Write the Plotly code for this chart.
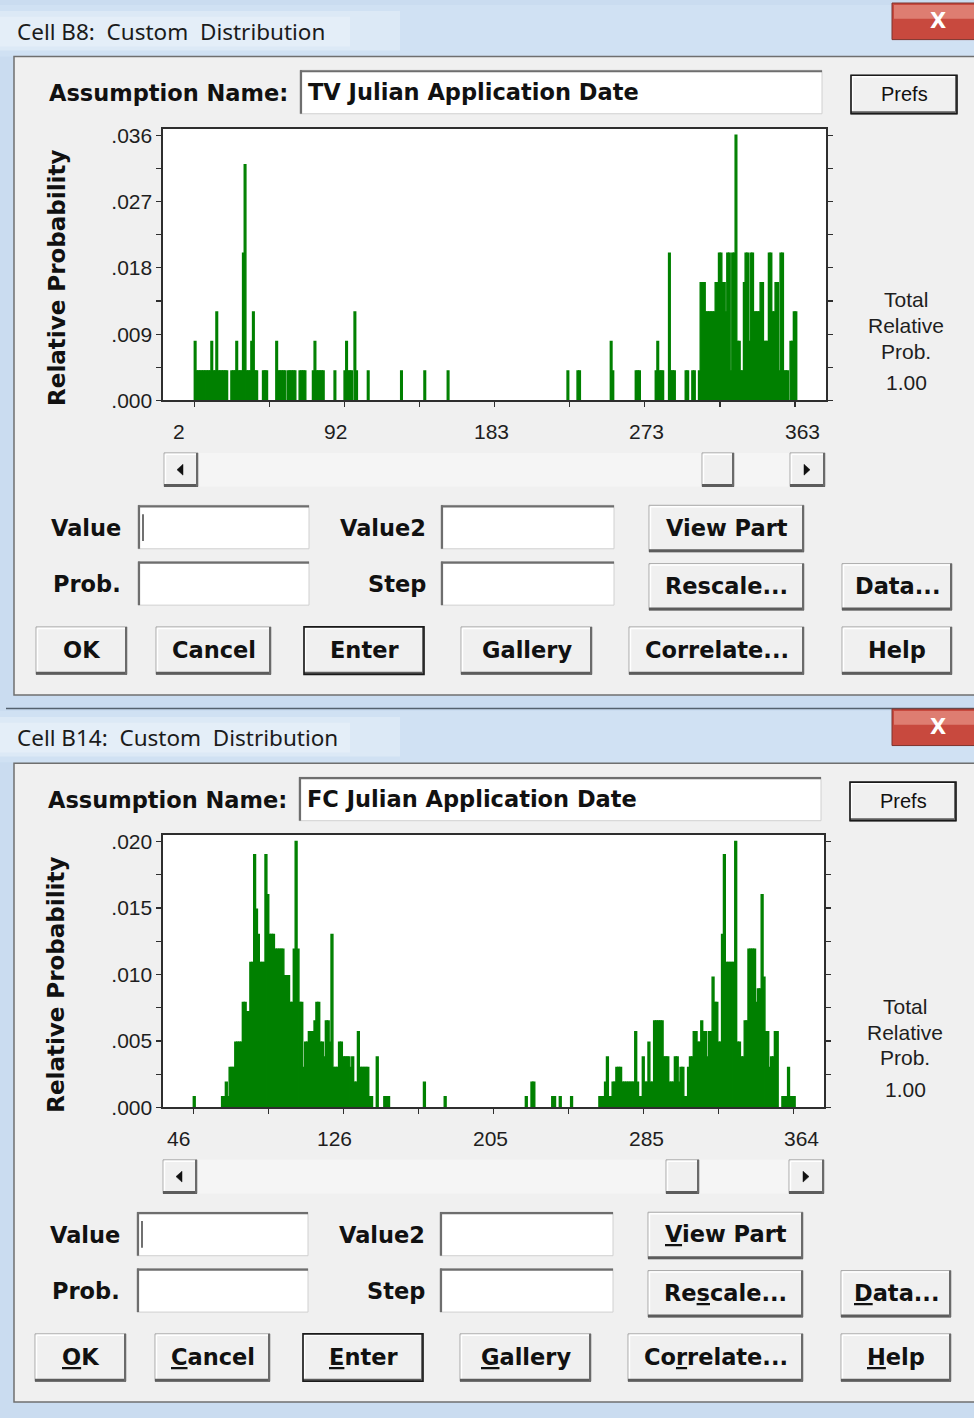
import plotly.graph_objects as go

W, H = 974, 1418

# ---------------- data ----------------
tv_days = [
    2, 3, 4, 5, 6, 7, 8, 9, 10, 11, 12, 13, 14, 15, 16, 17, 18, 19, 20, 21,
    24, 25, 26, 27, 28, 29, 30, 31, 32, 33, 34, 35, 36, 37, 38, 39,
    43, 44, 45, 51, 52, 53, 54, 55, 56, 58, 59, 60, 61, 62, 65, 66, 67, 68,
    73, 74, 75, 76, 77, 78, 79, 86, 92, 93, 94, 95, 96, 98, 99, 106,
    126, 140, 154, 226, 232, 233,
    252, 253, 267, 268, 269, 279, 280, 281, 282, 283, 287, 288, 289, 290, 297, 298, 301, 302, 305,
    306, 307, 308, 309, 310, 311, 312, 313, 314, 315, 316, 317, 318, 319, 320, 321, 322, 323, 324, 325,
    326, 327, 328, 329, 330, 331, 332, 333, 334, 335, 336, 337, 338, 339, 340, 341, 342, 343, 344, 345,
    346, 347, 348, 349, 350, 351, 352, 353, 354, 355, 356, 357, 358, 360, 361, 362, 363,
]
tv_prob = [
    .008, .004, .004, .004, .004, .004, .004, .004, .004, .004, .008, .004, .004, .012, .004, .004, .004, .004, .004, .004,
    .004, .004, .004, .008, .004, .004, .004, .020, .032, .004, .004, .004, .008, .012, .004, .004,
    .004, .004, .004, .008, .004, .004, .004, .004, .004, .004, .004, .004, .004, .004, .004, .004, .004, .004,
    .004, .008, .004, .004, .004, .004, .004, .004, .004, .008, .004, .004, .004, .012, .004, .004,
    .004, .004, .004, .004, .004, .004,
    .008, .004, .004, .004, .004, .004, .008, .004, .004, .004, .020, .004, .004, .004, .004, .004, .004, .004, .004,
    .016, .016, .016, .012, .012, .012, .012, .012, .012, .016, .016, .020, .020, .016, .016, .012, .020, .020, .004, .020,
    .020, .036, .008, .008, .004, .004, .016, .020, .020, .008, .020, .020, .012, .012, .012, .012, .016, .016, .008, .008,
    .008, .020, .020, .012, .012, .016, .016, .004, .020, .020, .004, .004, .004, .008, .008, .012, .012,
]

fc_days = [
    46, 61, 62, 63, 64, 65, 66, 67, 68, 69, 70, 71, 72, 73, 74, 75, 76, 77, 78, 79,
    80, 81, 82, 83, 84, 85, 86, 87, 88, 89, 90, 91, 92, 93, 94, 95, 96, 97, 98, 99,
    100, 101, 102, 103, 104, 105, 106, 107, 108, 109, 110, 111, 112, 113, 114, 115, 116, 117, 118, 119,
    120, 121, 122, 123, 124, 125, 126, 127, 128, 129, 130, 131, 132, 133, 134, 135, 136, 137, 138, 139, 140,
    143, 147, 148, 149, 168, 179, 222, 225, 226, 236, 237, 240, 246,
    261, 262, 263, 264, 265, 266, 267, 268, 269, 270, 271, 272, 273, 274, 275, 276, 277, 278, 279, 280,
    281, 282, 283, 284, 285, 286, 287, 288, 289, 290, 291, 292, 293, 294, 295, 296, 297, 298, 299, 300,
    301, 302, 303, 304, 305, 306, 307, 308, 309, 310, 311, 312, 313, 314, 315, 316, 317, 318, 319, 320,
    321, 322, 323, 324, 325, 326, 327, 328, 329, 330, 331, 332, 333, 334, 335, 336, 337, 338, 339, 340,
    341, 342, 343, 344, 345, 346, 347, 348, 349, 350, 351, 352, 353, 354, 355,
    358, 359, 360, 361, 362, 363, 364,
]
fc_prob = [
    .0008, .0008, .0008, .0019, .0008, .0030, .0030, .0030, .0049, .0049, .0049, .0049, .0079, .0079, .0072, .0072, .0109, .0109, .0190, .0149,
    .0130, .0109, .0109, .0109, .0190, .0160, .0130, .0130, .0130, .0119, .0119, .0119, .0119, .0119, .0099, .0099, .0099, .0079, .0079, .0119,
    .0200, .0119, .0079, .0079, .0030, .0049, .0049, .0057, .0057, .0057, .0065, .0079, .0079, .0049, .0049, .0038, .0065, .0065, .0049, .0130,
    .0030, .0030, .0030, .0049, .0049, .0038, .0038, .0038, .0038, .0030, .0038, .0019, .0019, .0057, .0030, .0030, .0030, .0030, .0030, .0008, .0008,
    .0038, .0008, .0008, .0008, .0019, .0008, .0008, .0019, .0019, .0008, .0008, .0008, .0008,
    .0008, .0008, .0008, .0019, .0038, .0008, .0008, .0019, .0019, .0030, .0030, .0030, .0019, .0019, .0019, .0019, .0019, .0019, .0019, .0057,
    .0019, .0008, .0008, .0038, .0019, .0019, .0049, .0019, .0019, .0065, .0065, .0065, .0065, .0065, .0038, .0038, .0038, .0019, .0019, .0019,
    .0038, .0038, .0019, .0030, .0030, .0008, .0008, .0030, .0038, .0038, .0057, .0057, .0049, .0049, .0065, .0057, .0057, .0038, .0057, .0057,
    .0098, .0079, .0079, .0049, .0049, .0130, .0190, .0109, .0109, .0109, .0109, .0109, .0200, .0049, .0049, .0038, .0038, .0065, .0065, .0119,
    .0119, .0119, .0119, .0079, .0089, .0089, .0160, .0098, .0057, .0057, .0030, .0038, .0038, .0057, .0057,
    .0008, .0008, .0008, .0030, .0008, .0008, .0008,
]

tv_x_ticks = [2, 47.125, 92.25, 137.375, 182.5, 227.625, 272.75, 317.875, 363]
tv_x_labels = ["2", "92", "183", "273", "363"]
tv_x_label_pos = [-7.2, 86.6, 180.3, 274.0, 367.7]
tv_y_ticks = [0, .0045, .009, .0135, .018, .0225, .027, .0315, .036]
tv_y_labels = [".000", "", ".009", "", ".018", "", ".027", "", ".036"]

fc_x_ticks = [46, 85.75, 125.5, 165.25, 205, 244.75, 284.5, 324.25, 364]
fc_x_labels = ["46", "126", "205", "285", "364"]
fc_x_label_pos = [37.9, 120.6, 203.3, 286.0, 368.6]
fc_y_ticks = [0, .0025, .005, .0075, .01, .0125, .015, .0175, .02]
fc_y_labels = [".000", "", ".005", "", ".010", "", ".015", "", ".020"]

GREEN = "#008000"
NORMAL = "Liberation Sans, Arial, sans-serif"
BOLD = "DejaVu Sans, Verdana, sans-serif"
TITLE = "Noto Sans, Open Sans, sans-serif"


def X(p):
    return p / W


def Y(p):
    return 1 - p / H


shapes = []
annotations = []


def rect(x0, y0, x1, y1, fill, line=None, lw=0):
    shapes.append(dict(type="rect", xref="paper", yref="paper",
                       x0=X(x0), x1=X(x1), y0=Y(y1), y1=Y(y0),
                       fillcolor=fill,
                       line=dict(color=line if line else "rgba(0,0,0,0)", width=lw),
                       layer="below"))


def seg(x0, y0, x1, y1, color, lw):
    shapes.append(dict(type="line", xref="paper", yref="paper",
                       x0=X(x0), x1=X(x1), y0=Y(y0), y1=Y(y1),
                       line=dict(color=color, width=lw), layer="below"))


def tri(pts, color):
    d = "M " + " L ".join(f"{X(a):.5f},{Y(b):.5f}" for a, b in pts) + " Z"
    shapes.append(dict(type="path", xref="paper", yref="paper", path=d,
                       fillcolor=color, line=dict(color=color, width=0.5), layer="below"))


def text(x, y, s, size, family, color="#111111", xanchor="left", angle=0):
    annotations.append(dict(x=X(x), y=Y(y), xref="paper", yref="paper", text=s,
                            showarrow=False, xanchor=xanchor, yanchor="middle",
                            textangle=angle,
                            font=dict(size=size, family=family, color=color)))


def sunken(x0, y0, x1, y1):
    rect(x0, y0, x1, y1, "white", "#d0d0d0", 1)
    seg(x0, y0 + 1, x1, y0 + 1, "#6e6e6e", 2.2)
    seg(x0 + 1, y0, x0 + 1, y1, "#6e6e6e", 2.2)


def raised(x0, y0, x1, y1, dark=False):
    rect(x0, y0, x1, y1, "#f0f0f0", "#a8a8a8", 1)
    seg(x0 + 1.5, y0 + 1.5, x1 - 2, y0 + 1.5, "#ffffff", 1.5)
    seg(x0 + 1.5, y0 + 1.5, x0 + 1.5, y1 - 2, "#ffffff", 1.5)
    seg(x0, y1 - 1, x1, y1 - 1, "#5c5c5c", 3)
    seg(x1 - 1, y0, x1 - 1, y1, "#6a6a6a", 2)
    if dark:
        rect(x0, y0, x1, y1, "rgba(0,0,0,0)", "#1a1a1a", 1.6)


def button(x0, y0, x1, y1, label, dark=False, size=22.5):
    raised(x0, y0, x1, y1, dark)
    text((x0 + x1) / 2, (y0 + y1) / 2 - 1, f"<b>{label}</b>", size, BOLD, xanchor="center")


def dialog(win_top, off, title, name, plot_box, thumb, dx, u):
    # title bar
    rect(0, win_top, 974, win_top + 52, "#d0e1f3")
    rect(0, win_top + 6, 400, win_top + 46, "rgba(236,243,251,0.45)")
    rect(0, win_top + 12, 350, win_top + 42, "rgba(244,248,253,0.35)")
    text(15, win_top + 27, title, 22.5, TITLE, color="#1b1b1b")
    # close button
    rect(892, win_top - 2, 978, win_top + 35, "#c8493e", "#7e332d", 1)
    rect(894, win_top, 976, win_top + 14, "rgba(236,160,148,0.6)")
    text(938, win_top + 16, "<b>X</b>", 21, BOLD, color="#ffffff", xanchor="center")
    # panel
    rect(14, 52 + off, 980, 698 + off, "#f0f0f0", "#6f6f6f", 1.5)

    text(47 + dx, 89 + off, "<b>Assumption Name:</b>", 22.5, BOLD)
    sunken(300 + dx, 66 + off, 822 + dx, 110 + off)
    text(306 + dx, 88 + off, f"<b>{name}</b>", 22.5, BOLD)
    raised(851 + dx, 71 + off, 957 + dx, 110 + off, dark=True)
    text(904 + dx, 90 + off, "Prefs", 20, NORMAL, xanchor="center")

    # plot background
    px0, py0, px1, py1 = plot_box
    rect(px0, py0, px1, py1, "white")

    text(57 + dx, 276 + off, "<b>Relative Probability</b>", 23, BOLD, angle=-90, xanchor="center")
    for yy, s in zip([298, 324, 350, 382], ["Total", "Relative", "Prob.", "1.00"]):
        text(906 + dx, yy + off, s, 21, NORMAL, xanchor="center", color="#1e1e1e")

    # scrollbar
    sy0, sy1 = 453 + off, 487 + off
    rect(163 + dx, sy0, 826 + dx, sy1, "#f5f5f5")
    raised(164 + dx, sy0, 198 + dx, sy1)
    tri([(177 + dx, 470 + off), (183 + dx, 464.5 + off), (183 + dx, 475.5 + off)], "#111111")
    raised(790 + dx, sy0, 825 + dx, sy1)
    tri([(810 + dx, 470 + off), (804 + dx, 464.5 + off), (804 + dx, 475.5 + off)], "#111111")
    raised(thumb[0], sy0, thumb[1], sy1)

    # value/prob fields
    text(123 + dx, 529 + off, "<b>Value</b>", 22.5, BOLD, xanchor="right")
    sunken(138 + dx, 506 + off, 309 + dx, 550 + off)
    seg(143 + dx, 515 + off, 143 + dx, 542 + off, "#111111", 1.2)
    text(428 + dx, 529 + off, "<b>Value2</b>", 22.5, BOLD, xanchor="right")
    sunken(441 + dx, 506 + off, 614 + dx, 550 + off)
    button(649 + dx, 506 + off, 804 + dx, 553 + off, u["view"])

    text(123 + dx, 586 + off, "<b>Prob.</b>", 22.5, BOLD, xanchor="right")
    sunken(138 + dx, 563 + off, 309 + dx, 607 + off)
    text(428 + dx, 586 + off, "<b>Step</b>", 22.5, BOLD, xanchor="right")
    sunken(441 + dx, 563 + off, 614 + dx, 607 + off)
    button(649 + dx, 565 + off, 804 + dx, 612 + off, u["rescale"])
    button(842 + dx, 565 + off, 952 + dx, 612 + off, u["data"])

    by0, by1 = 629 + off, 677 + off
    button(36 + dx, by0, 127 + dx, by1, u["ok"])
    button(156 + dx, by0, 271 + dx, by1, u["cancel"])
    button(304 + dx, by0, 424 + dx, by1, u["enter"], dark=True)
    button(461 + dx, by0, 592 + dx, by1, u["gallery"])
    button(629 + dx, by0, 804 + dx, by1, u["correlate"])
    button(842 + dx, by0, 952 + dx, by1, u["help"])


top_labels = dict(view="View Part", rescale="Rescale...", data="Data...", ok="OK",
                  cancel="Cancel", enter="Enter", gallery="Gallery",
                  correlate="Correlate...", help="Help")
bot_labels = dict(view="<u>V</u>iew Part", rescale="Re<u>s</u>cale...", data="<u>D</u>ata...",
                  ok="<u>O</u>K", cancel="<u>C</u>ancel", enter="<u>E</u>nter",
                  gallery="<u>G</u>allery", correlate="Co<u>r</u>relate...", help="<u>H</u>elp")

# window frames
rect(0, 0, 974, 712, "#cadcf0")
rect(0, 712, 974, 1418, "#cadcf0")
dialog(0, 0, "Cell B8:\u00a0 Custom\u00a0 Distribution", "TV Julian Application Date",
       (163, 125, 826, 400), (702, 734), 0, top_labels)
seg(6, 711.5, 974, 711.5, "#54616e", 1.5)
dialog(714, 715, "Cell B14:\u00a0 Custom\u00a0 Distribution", "FC Julian Application Date",
       (163, 839, 824, 1115), (666, 699), -1, bot_labels)

# x tick labels (positions follow the reference's label placement)
for p, s in zip(tv_x_label_pos, tv_x_labels):
    annotations.append(dict(x=p, xref="x", y=Y(431), yref="paper", text=s, showarrow=False,
                            xanchor="center", yanchor="middle",
                            font=dict(size=21, family=NORMAL, color="#1e1e1e")))
for p, s in zip(fc_x_label_pos, fc_x_labels):
    annotations.append(dict(x=p, xref="x2", y=Y(1146), yref="paper", text=s, showarrow=False,
                            xanchor="center", yanchor="middle",
                            font=dict(size=21, family=NORMAL, color="#1e1e1e")))

fig = go.Figure()
fig.add_trace(go.Bar(x=tv_days, y=tv_prob, width=1, offset=0,
                     marker=dict(color=GREEN, line=dict(color=GREEN, width=1.4)),
                     xaxis="x", yaxis="y", hoverinfo="skip"))
fig.add_trace(go.Bar(x=fc_days, y=fc_prob, width=1, offset=0,
                     marker=dict(color=GREEN, line=dict(color=GREEN, width=1.4)),
                     xaxis="x2", yaxis="y2", hoverinfo="skip"))

axis_common = dict(showgrid=False, zeroline=False, showline=True, linecolor="#2e2e2e",
                   linewidth=1.6, ticks="outside", ticklen=5, tickwidth=1.2,
                   tickcolor="#2e2e2e", fixedrange=True)

fig.update_layout(
    width=W, height=H,
    margin=dict(l=0, r=0, t=0, b=0),
    paper_bgcolor="#cadcf0",
    plot_bgcolor="rgba(0,0,0,0)",
    showlegend=False,
    bargap=0,
    xaxis=dict(domain=[X(163), X(826)], range=[-16.81, 381.6], anchor="y",
               tickvals=tv_x_ticks, showticklabels=False, mirror=True, **axis_common),
    yaxis=dict(domain=[Y(400), Y(125)], range=[0, 0.0369], anchor="x",
               tickvals=tv_y_ticks, ticktext=tv_y_labels, mirror="ticks",
               tickfont=dict(size=21, family=NORMAL, color="#1e1e1e"), **axis_common),
    xaxis2=dict(domain=[X(163), X(824)], range=[29.94, 380.3], anchor="y2",
                tickvals=fc_x_ticks, showticklabels=False, mirror=True, **axis_common),
    yaxis2=dict(domain=[Y(1115), Y(839)], range=[0, 0.02052], anchor="x2",
                tickvals=fc_y_ticks, ticktext=fc_y_labels, mirror="ticks",
                tickfont=dict(size=21, family=NORMAL, color="#1e1e1e"), **axis_common),
    shapes=shapes,
    annotations=annotations,
)

fig.write_html("out.html",
               config={"displayModeBar": False, "staticPlot": True},
               post_script="document.body.style.margin='0px';document.body.style.padding='0px';"
                           "document.body.style.overflow='hidden';")
